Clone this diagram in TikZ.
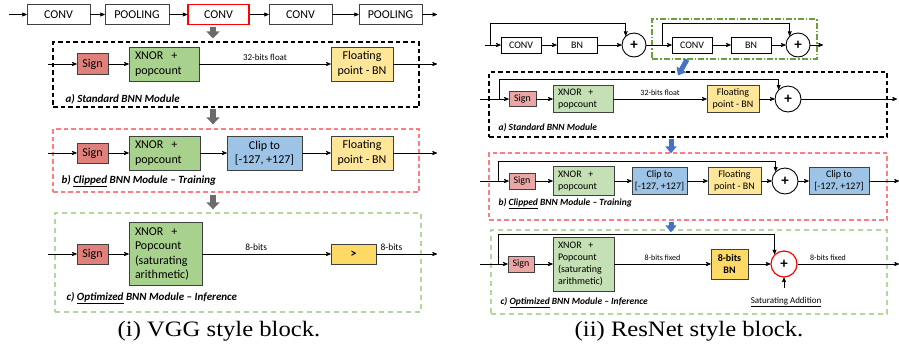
\documentclass[tikz,border=0pt]{standalone}
\usepackage{fontspec}
\setmainfont{Carlito}
\newfontfamily\capfont{Liberation Serif}
\usetikzlibrary{arrows,arrows.meta}

\definecolor{signL}{HTML}{E0807A}
\definecolor{signR}{HTML}{EBA7A5}
\definecolor{xnorL}{HTML}{A9D18E}
\definecolor{xnorR}{HTML}{C5E0B4}
\definecolor{fpyel}{HTML}{FFE699}
\definecolor{clipblue}{HTML}{9DC3E6}
\definecolor{gold}{HTML}{FFD966}
\definecolor{dashred}{HTML}{FF7C80}
\definecolor{dashgreen}{HTML}{B4D89C}
\definecolor{dotgreen}{HTML}{6AA03F}
\definecolor{arrgray}{HTML}{6B6B6B}
\definecolor{arrblue}{HTML}{4472C4}

\begin{document}
\begin{tikzpicture}[x=1pt,y=-1pt,>=stealth',
    sz/.style 2 args={minimum width=#1,minimum height=#2},
    box/.style={draw=black!75,line width=0.6pt,inner sep=0pt,align=center},
    fbig/.style={font=\fontsize{12}{14.5}\selectfont},
    fmid/.style={font=\fontsize{10}{12}\selectfont},
    xnor/.style 2 args={box,fill=#1,align=left,text width=#2},
    plus/.style={circle,draw,line width=0.9pt,fill=white,inner sep=0pt,minimum size=#1,font=\fontsize{15}{15}\selectfont\bfseries},
    module/.style={line width=1.1pt,dash pattern=on 4.5pt off 3pt,inner sep=0pt},
    redmod/.style={module,draw=dashred,line width=1.3pt},
    greenmod/.style={module,draw=dashgreen,line width=1.4pt,dash pattern=on 5pt off 4pt},
    modlbl/.style={anchor=west,font=\fontsize{11}{13}\selectfont\bfseries\itshape},
    rmodlbl/.style={anchor=west,font=\fontsize{9.5}{11}\selectfont\bfseries\itshape},
    wire/.style={->,line width=0.7pt},
    grayarr/.style={draw=arrgray,line width=6pt,-{Triangle[length=7pt,width=13pt]}},
    bluearr/.style={draw=arrblue,line width=5pt,-{Triangle[length=7pt,width=11pt]}}]
    \useasboundingbox (0,0) rectangle (899,360);

    \node[box,fbig,sz={63}{20}]                            (conv1) at (58.5,14.5)  {CONV};
    \node[box,fbig,sz={64}{20}]                            (pool1) at (137,14.5)   {POOLING};
    \node[box,fbig,sz={61}{20},draw=red,line width=1.5pt]  (conv2) at (218.5,14.5) {CONV};
    \node[box,fbig,sz={63}{20}]                            (conv3) at (300.5,14.5) {CONV};
    \node[box,fbig,sz={63}{20}]                            (pool2) at (390.5,14.5) {POOLING};
    \coordinate (vin)  at (9,14.5);
    \coordinate (vout) at (437,14.5);

    \node[module,draw=black,sz={366}{65}] (va) at (236,74.5)  {};
    \node[redmod,sz={366}{63}]            (vb) at (236,160.5) {};
    \node[greenmod,sz={366}{99}]          (vc) at (238,262.5) {};

    \coordinate (vain) at (48,64);
    \node[box,fbig,fill=signL,sz={31}{21}]      (vasign) at (92.5,64) {Sign};
    \node[xnor={xnorL}{58},fbig,sz={70}{34}]    (vaxnor) at (164,64)  {XNOR~ +\\popcount};
    \node[box,fbig,fill=fpyel,sz={62}{34}]      (vafp)   at (362,64)  {Floating\\point - BN};
    \coordinate (vaout) at (437,64);
    \node[modlbl] (valbl) at (62,99) {a) Standard BNN Module};

    \coordinate (vbin) at (48,153);
    \node[box,fbig,fill=signL,sz={31}{20}]      (vbsign) at (92.5,153)  {Sign};
    \node[xnor={xnorL}{59},fbig,sz={71}{34}]    (vbxnor) at (164.5,153) {XNOR~ +\\popcount};
    \node[box,fbig,fill=clipblue,sz={75}{34}]   (vbclip) at (264.5,153) {Clip to\\{[-127, +127]}};
    \node[box,fbig,fill=fpyel,sz={62}{34}]      (vbfp)   at (362,153)   {Floating\\point - BN};
    \coordinate (vbout) at (437,153);
    \node[modlbl] (vblbl) at (58,181) {b) \underline{Clipped} BNN Module -- Training};

    \coordinate (vcin) at (48,254);
    \node[box,fbig,fill=signL,sz={31}{20}]      (vcsign) at (92.5,254)  {Sign};
    \node[xnor={xnorL}{61},fbig,sz={73}{63}]    (vcxnor) at (165.5,254) {XNOR~ +\\Popcount\\(saturating\\arithmetic)};
    \node[box,fbig,fill=gold,sz={45}{20}]       (vcgt)   at (353.5,254) {\textbf{>}};
    \coordinate (vcout) at (437,254);
    \node[modlbl] (vclbl) at (63,298) {c) \underline{Optimized} BNN Module -- Inference};

    \draw[wire] (vin) -- (conv1);
    \draw[wire] (conv1) -- (pool1);
    \draw[wire] (pool1) -- (conv2);
    \draw[wire] (conv2) -- (conv3);
    \draw[wire] (conv3) -- (pool2);
    \draw[wire] (pool2) -- (vout);

    \draw[wire] (vain) -- (vasign);
    \draw[wire] (vasign) -- (vaxnor);
    \draw[wire] (vaxnor) -- node[above,font=\fontsize{9}{10}\selectfont]{32-bits float} (vafp);
    \draw[wire] (vafp) -- (vaout);

    \draw[wire] (vbin) -- (vbsign);
    \draw[wire] (vbsign) -- (vbxnor);
    \draw[wire] (vbxnor) -- (vbclip);
    \draw[wire] (vbclip) -- (vbfp);
    \draw[wire] (vbfp) -- (vbout);

    \draw[wire] (vcin) -- (vcsign);
    \draw[wire] (vcsign) -- (vcxnor);
    \draw[wire] (vcxnor) -- node[above,pos=0.42,font=\fontsize{9.5}{10}\selectfont]{8-bits} (vcgt);
    \draw[wire] (vcgt) -- node[above,pos=0.25,font=\fontsize{9.5}{10}\selectfont]{8-bits} (vcout);

    \draw[grayarr] ([xshift=-5.5pt,yshift=-2pt]conv2.south) -- ([xshift=-5.5pt,yshift=3pt]conv2.south |- va.north);
    \draw[grayarr] ([xshift=-23pt,yshift=-1pt]va.south) -- ([xshift=-23pt,yshift=4pt]vb.north);
    \draw[grayarr] ([xshift=-23pt,yshift=-2pt]vb.south) -- ([xshift=-25pt,yshift=3pt]vc.north);

    \coordinate (rin)  at (485,45);
    \coordinate (rs1)  at (490,45);
    \node[box,fmid,draw=black,sz={40}{16}] (rconv1) at (521,45) {CONV};
    \node[box,fmid,draw=black,sz={40}{16}] (rbn1)   at (577,45) {BN};
    \node[plus=24]                         (rplus1) at (634,45) {+};
    \node[module,draw=dotgreen,line width=1.2pt,dash pattern=on 6pt off 2pt on 1.5pt off 2pt,sz={165}{40}] (rg) at (734.5,39) {};
    \coordinate (rs2)  at (662,45);
    \node[box,fmid,draw=black,sz={40}{16}] (rconv2) at (692,45) {CONV};
    \node[box,fmid,draw=black,sz={40}{16}] (rbn2)   at (751,45) {BN};
    \node[plus=24]                         (rplus2) at (798,45) {+};
    \coordinate (rout) at (823,45);

    \draw[wire] (rin) -- (rconv1);
    \draw[wire] (rconv1) -- (rbn1);
    \draw[wire] (rbn1) -- (rplus1);
    \draw[wire] (rplus1) -- (rconv2);
    \draw[wire] (rconv2) -- (rbn2);
    \draw[wire] (rbn2) -- (rplus2);
    \draw[wire] (rplus2) -- (rout);
    \draw[wire] (rs1) -- ++(0,-22) -| (rplus1.132);
    \draw[wire] (rs2) -- ++(0,-22) -| (rplus2.132);

    \node[module,draw=black,sz={398}{65}] (ra) at (688,104.5) {};
    \node[redmod,sz={398}{67}]            (rb) at (688,186.5) {};
    \node[greenmod,sz={396}{84}]          (rc) at (689,272)   {};

    \coordinate (rain) at (480,99);
    \coordinate (ras)  at (499,99);
    \node[box,fmid,fill=signR,sz={27}{15}]   (rasign) at (522.5,99) {Sign};
    \node[xnor={xnorR}{50},fmid,sz={60}{27}] (raxnor) at (583,99)   {XNOR~ +\\popcount};
    \node[box,fmid,fill=fpyel,sz={52}{27}]   (rafp)   at (733,99)   {Floating\\point - BN};
    \node[plus=26]                           (raplus) at (788,99)   {+};
    \coordinate (raout) at (897,99);
    \node[rmodlbl] (ralbl) at (495,128) {a) Standard BNN Module};

    \draw[wire] (rain) -- (rasign);
    \draw[wire] (rasign) -- (raxnor);
    \draw[wire] (raxnor) -- node[above,font=\fontsize{8}{9}\selectfont]{32-bits float} (rafp);
    \draw[wire] (rafp) -- (raplus);
    \draw[wire] (raplus) -- (raout);
    \draw[wire] (ras) -- ++(0,-20) -| (raplus.134);

    \coordinate (rbin) at (480,181);
    \coordinate (rbs)  at (498,181);
    \node[box,fmid,fill=signR,sz={26}{16}]     (rbsign)  at (522,181)   {Sign};
    \node[xnor={xnorR}{51},fmid,sz={61}{29}]   (rbxnor)  at (583.5,181) {XNOR~ +\\popcount};
    \node[box,fmid,fill=clipblue,sz={55}{27}]  (rbclip1) at (659.5,181) {Clip to\\{[-127, +127]}};
    \node[box,fmid,fill=fpyel,sz={53}{27}]     (rbfp)    at (734.5,181) {Floating\\point - BN};
    \node[plus=26]                             (rbplus)  at (785,181)   {+};
    \node[box,fmid,fill=clipblue,sz={60}{27}]  (rbclip2) at (839,181)   {Clip to\\{[-127, +127]}};
    \coordinate (rbout) at (899,181);
    \node[rmodlbl] (rblbl) at (495,204) {b) \underline{Clipped} BNN Module -- Training};

    \draw[wire] (rbin) -- (rbsign);
    \draw[wire] (rbsign) -- (rbxnor);
    \draw[wire] (rbxnor) -- (rbclip1);
    \draw[wire] (rbclip1) -- (rbfp);
    \draw[wire] (rbfp) -- (rbplus);
    \draw[wire] (rbplus) -- (rbclip2);
    \draw[wire] (rbclip2) -- (rbout);
    \draw[wire] (rbs) -- ++(0,-20) -| (rbplus.134);

    \coordinate (rcin) at (480,264);
    \coordinate (rcs)  at (498,264);
    \node[box,fmid,fill=signR,sz={26}{16}]     (rcsign) at (521,264)   {Sign};
    \node[xnor={xnorR}{51},fmid,sz={61}{54}]   (rcxnor) at (583.5,264) {XNOR~ +\\Popcount\\(saturating\\arithmetic)};
    \node[box,fmid,fill=gold,sz={37}{30}]      (rcbn)   at (729.5,264) {\textbf{8-bits}\\\textbf{BN}};
    \node[plus=26,draw=red,line width=1.2pt]   (rcplus) at (784,264)   {+};
    \coordinate (rcout) at (899,264);
    \node[font=\fontsize{9}{10}\selectfont]    (rcsat)  at (786,302)   {\underline{Saturating Addition}};
    \node[rmodlbl] (rclbl) at (497,303) {c) \underline{Optimized} BNN Module -- Inference};

    \draw[wire] (rcin) -- (rcsign);
    \draw[wire] (rcsign) -- (rcxnor);
    \draw[wire] (rcxnor) -- node[above,font=\fontsize{8}{9}\selectfont]{8-bits fixed} (rcbn);
    \draw[wire] (rcbn) -- (rcplus);
    \draw[wire] (rcplus) -- node[above,pos=0.3,font=\fontsize{8}{9}\selectfont]{8-bits fixed} (rcout);
    \draw[wire] (rcs) -- ++(0,-30) -| (rcplus.134);
    \draw[wire] ([yshift=6pt]rcplus.south |- rcsat.north) -- (rcplus);

    \draw[bluearr] ([xshift=-47.5pt]rg.south) -- ([xshift=-10pt,yshift=-4pt]ra.north);
    \draw[bluearr] ([xshift=-17pt,yshift=-1pt]ra.south) -- ([xshift=-17pt,yshift=-1pt]rb.north);
    \draw[bluearr] ([xshift=-17pt,yshift=-1pt]rb.south) -- ([xshift=-18pt,yshift=-3pt]rc.north);

    \node[font=\capfont\fontsize{22}{24}\selectfont] (capi)  at (219,331) {\scalebox{1.12}[1]{(i) VGG style block.}};
    \node[font=\capfont\fontsize{22}{24}\selectfont] (capii) at (689,331) {\scalebox{1.12}[1]{(ii) ResNet style block.}};
\end{tikzpicture}
\end{document}
